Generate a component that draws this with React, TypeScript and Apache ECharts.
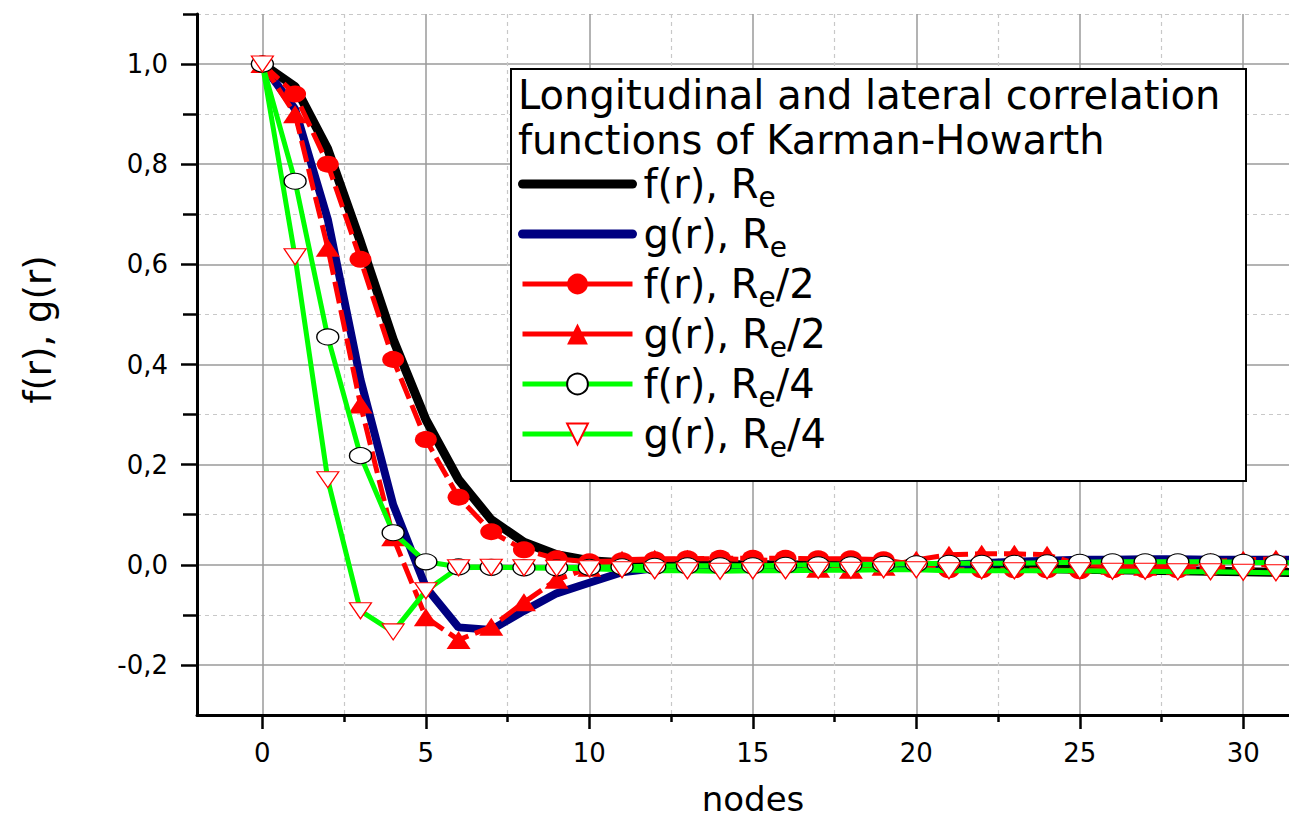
import React, { useEffect, useRef } from 'react';
import * as echarts from 'echarts';

const FONT = '"DejaVu Sans", "Liberation Sans", Arial, sans-serif';

const nodes = [0, 1, 2, 3, 4, 5, 6, 7, 8, 9, 10, 11, 12, 13, 14, 15, 16, 17, 18, 19, 20, 21, 22, 23, 24, 25, 26, 27, 28, 29, 30, 31, 32];

const fRe = [1, 0.955, 0.83, 0.645, 0.45, 0.29, 0.17, 0.09, 0.045, 0.02, 0.008, 0.004, 0.002, 0.001, 0.0, 0.0, 0.0, -0.001, -0.002, -0.003, -0.004, -0.005, -0.006, -0.007, -0.008, -0.009, -0.01, -0.011, -0.012, -0.013, -0.014, -0.015, -0.016];
const gRe = [1, 0.91, 0.69, 0.37, 0.12, -0.045, -0.125, -0.13, -0.092, -0.057, -0.036, -0.015, -0.007, -0.007, -0.008, -0.008, -0.008, -0.007, -0.006, -0.005, -0.003, 0.0, 0.003, 0.006, 0.008, 0.01, 0.01, 0.011, 0.011, 0.01, 0.01, 0.01, 0.01];
const fRe2 = [1, 0.94, 0.8, 0.61, 0.41, 0.25, 0.135, 0.066, 0.03, 0.012, 0.006, 0.008, 0.01, 0.012, 0.013, 0.013, 0.013, 0.012, 0.012, 0.01, 0.0, -0.01, -0.01, -0.01, -0.01, -0.012, -0.01, -0.01, -0.01, -0.006, -0.002, 0.002, 0.004];
const gRe2 = [1, 0.9, 0.633, 0.32, 0.055, -0.105, -0.15, -0.124, -0.075, -0.03, -0.006, 0.01, 0.012, 0.012, 0.012, 0.01, 0.008, -0.008, -0.01, -0.004, 0.01, 0.02, 0.022, 0.022, 0.02, 0.0, -0.002, -0.004, -0.002, 0.006, 0.01, 0.012, 0.012];
const fRe4 = [1, 0.766, 0.455, 0.218, 0.064, 0.006, -0.004, -0.005, -0.006, -0.006, -0.005, -0.004, -0.003, -0.002, -0.002, -0.002, -0.001, 0.0, 0.0, 0.001, 0.002, 0.003, 0.003, 0.003, 0.004, 0.005, 0.006, 0.006, 0.006, 0.006, 0.005, 0.004, 0.004];
const gRe4 = [1, 0.615, 0.17, -0.092, -0.134, -0.052, -0.006, -0.005, -0.006, -0.007, -0.008, -0.01, -0.012, -0.012, -0.013, -0.012, -0.012, -0.011, -0.011, -0.01, -0.01, -0.012, -0.012, -0.012, -0.012, -0.012, -0.013, -0.013, -0.014, -0.014, -0.015, -0.016, -0.016];

const xMajorTicks = [0, 5, 10, 15, 20, 25, 30];
const xMinorTicks = [2.5, 7.5, 12.5, 17.5, 22.5, 27.5];
const yMajorTicks = [-0.2, 0, 0.2, 0.4, 0.6, 0.8, 1.0];
const yMinorTicks = [-0.1, 0.1, 0.3, 0.5, 0.7, 0.9, 1.1];

const seriesNames = ['fRe', 'gRe', 'fRe2', 'gRe2', 'fRe4', 'gRe4'];
const legendLabels: Record<string, string> = {
  fRe: '{m|f(r), R}{s|e}',
  gRe: '{m|g(r), R}{s|e}',
  fRe2: '{m|f(r), R}{s|e}{m|/2}',
  gRe2: '{m|g(r), R}{s|e}{m|/2}',
  fRe4: '{m|f(r), R}{s|e}{m|/4}',
  gRe4: '{m|g(r), R}{s|e}{m|/4}',
};
const titleLines = ['Longitudinal and lateral correlation', 'functions of Karman-Howarth'];

const pairs = (vals: number[]) => vals.map((v, i) => [nodes[i], v]);

export default function App() {
  const ref = useRef<HTMLDivElement>(null);
  useEffect(() => {
    if (!ref.current) return;
    const chart = echarts.init(ref.current, undefined, { renderer: 'svg' });
    const xMin = -2;
    const xMax = 31.4;
    const yMin = -0.3;
    const yMax = 1.1;
    const option: any = {
      animation: false,
      backgroundColor: '#fff',
      grid: { left: 197, right: 0, top: 14, bottom: 106, containLabel: false, outerBoundsMode: 'none' },
      xAxis: [
        {
          type: 'value', min: xMin, max: xMax, position: 'bottom',
          axisLine: { show: true, onZero: false, lineStyle: { color: '#000', width: 3 } },
          axisTick: { show: true, customValues: xMajorTicks, length: 14, lineStyle: { color: '#000', width: 2.5 } },
          axisLabel: { show: true, customValues: xMajorTicks, fontSize: 26, fontFamily: FONT, color: '#000', margin: 25 },
          splitLine: { show: true, lineStyle: { color: '#9a9a9a', width: 1.5 } },
          name: 'nodes', nameLocation: 'middle', nameGap: 69,
          nameTextStyle: { fontSize: 34, lineHeight: 30, fontFamily: FONT, color: '#000', padding: [0, 0, 0, 20] },
        },
        {
          type: 'value', min: xMin, max: xMax, position: 'bottom',
          axisLine: { show: false, onZero: false },
          axisTick: { show: true, customValues: xMinorTicks, length: 7, lineStyle: { color: '#000', width: 2.5 } },
          axisLabel: { show: false },
          splitLine: { show: true, lineStyle: { color: '#c8c8c8', width: 1.2, type: [4, 4] } },
        },
      ],
      yAxis: [
        {
          type: 'value', min: yMin, max: yMax, position: 'left',
          axisLine: { show: true, onZero: false, lineStyle: { color: '#000', width: 3 } },
          axisTick: { show: true, customValues: yMajorTicks, length: 16, lineStyle: { color: '#000', width: 2.5 } },
          axisLabel: {
            show: true, customValues: yMajorTicks, fontSize: 26, fontFamily: FONT, color: '#000', margin: 29,
            formatter: (v: number) => v.toFixed(1).replace('.', ','),
          },
          splitLine: { show: true, lineStyle: { color: '#9a9a9a', width: 1.5 } },
          name: 'f(r), g(r)', nameLocation: 'middle', nameGap: 140,
          nameTextStyle: { fontSize: 37, fontFamily: FONT, color: '#000', padding: [0, 0, 0, 70] },
        },
        {
          type: 'value', min: yMin, max: yMax, position: 'left',
          axisLine: { show: false, onZero: false },
          axisTick: { show: true, customValues: yMinorTicks, length: 14, lineStyle: { color: '#000', width: 2.5 } },
          axisLabel: { show: false },
          splitLine: { show: true, lineStyle: { color: '#c8c8c8', width: 1.2, type: [4, 4] } },
        },
      ],
      legend: {
        orient: 'vertical', left: 513, top: 156,
        itemWidth: 110, itemHeight: 26, itemGap: 0,
        selectedMode: false,
        formatter: (name: string) => legendLabels[name],
        textStyle: {
          fontSize: 40, fontFamily: FONT, color: '#000', lineHeight: 46, padding: [0, 0, 0, 6],
          rich: {
            m: { fontSize: 40, fontFamily: FONT, color: '#000', lineHeight: 46 },
            s: { fontSize: 28, fontFamily: FONT, color: '#000', lineHeight: 20, height: 8, padding: [26, 0, 0, 0] },
          },
        },
        data: [
          { name: 'fRe', itemStyle: { opacity: 0 }, lineStyle: { width: 9, cap: 'round' } },
          { name: 'gRe', itemStyle: { opacity: 0 }, lineStyle: { width: 9, cap: 'round' } },
          { name: 'fRe2', lineStyle: { type: 'solid', width: 5 } },
          { name: 'gRe2', lineStyle: { type: 'solid', width: 5 } },
          { name: 'fRe4', lineStyle: { width: 5 } },
          { name: 'gRe4', lineStyle: { width: 5 } },
        ],
        z: 10,
      },
      graphic: [
        {
          type: 'rect', left: 510, top: 68, z: 5,
          shape: { width: 735, height: 412 },
          style: { fill: '#fff', stroke: '#000', lineWidth: 2 },
        },
        {
          type: 'text', left: 518, top: 72, z: 6,
          style: { text: titleLines.join('\n'), font: `40px ${FONT}`, lineHeight: 45, fill: '#000' },
        },
      ],
      series: [
        {
          name: seriesNames[0], type: 'line', data: pairs(fRe), symbol: 'none',
          lineStyle: { color: '#000', width: 9 }, itemStyle: { color: '#000' }, z: 2,
        },
        {
          name: seriesNames[1], type: 'line', data: pairs(gRe), symbol: 'none',
          lineStyle: { color: '#000080', width: 8 }, itemStyle: { color: '#000080' }, z: 2,
        },
        {
          name: seriesNames[2], type: 'line', data: pairs(fRe2), symbol: 'circle', symbolSize: [22, 17],
          lineStyle: { color: '#ff0000', width: 5, type: [22, 7] }, itemStyle: { color: '#ff0000' }, z: 3,
        },
        {
          name: seriesNames[3], type: 'line', data: pairs(gRe2), symbol: 'triangle', symbolSize: [24, 18],
          lineStyle: { color: '#ff0000', width: 5, type: [22, 7] }, itemStyle: { color: '#ff0000' }, z: 3,
        },
        {
          name: seriesNames[4], type: 'line', data: pairs(fRe4), symbol: 'circle', symbolSize: [22, 16],
          lineStyle: { color: '#00ff00', width: 5 }, itemStyle: { color: '#ffffff', borderColor: '#000', borderWidth: 1.2 }, z: 4,
        },
        {
          name: seriesNames[5], type: 'line', data: pairs(gRe4), symbol: 'path://M0,0L20,0L10,18Z', symbolSize: [22, 16],
          lineStyle: { color: '#00ff00', width: 5 }, itemStyle: { color: '#ffffff', borderColor: '#ff0000', borderWidth: 1.2 }, z: 4,
        },
      ],
    };
    chart.setOption(option);
    return () => chart.dispose();
  }, []);
  return <div ref={ref} style={{ position: 'absolute', left: 0, top: 0, width: 1289, height: 821 }} />;
}
